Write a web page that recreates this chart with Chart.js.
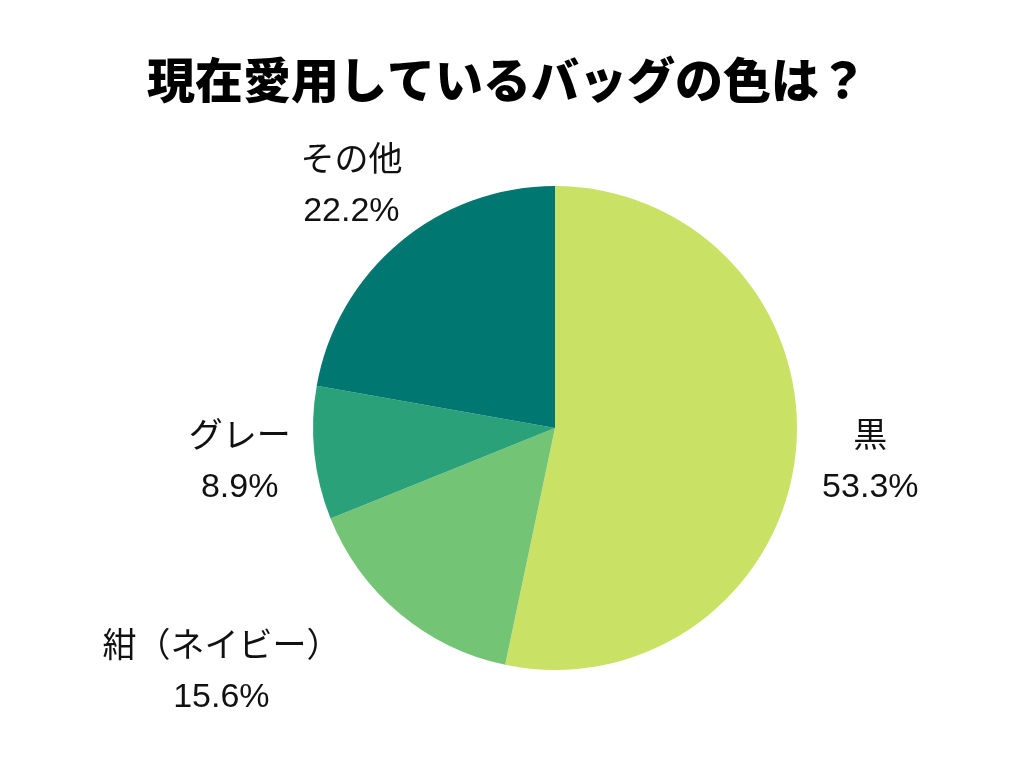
<!DOCTYPE html>
<html>
<head>
<meta charset="utf-8">
<script src="https://cdn.jsdelivr.net/npm/chart.js@4.4.1/dist/chart.umd.min.js"></script>
<style>
  html, body { margin: 0; padding: 0; background: #ffffff; }
  #wrap { width: 1024px; height: 768px; }
</style>
</head>
<body>
<div id="wrap"><canvas id="bagChart" width="1024" height="768"></canvas></div>
<script>
const TITLE = "現在愛用しているバッグの色は？";
const labels = ["黒", "紺（ネイビー）", "グレー", "その他"];
const shares = [53.3, 15.6, 8.9, 22.2];
const colors = ["#C9E265", "#74C476", "#2BA179", "#007770"];
// extra horizontal nudge for labels that would crowd the pie
const labelShiftX = [0, -130, 0, 0];

const textFont = '"Liberation Sans", "Noto Sans CJK JP", sans-serif';

const outsideLabels = {
    id: 'outsideLabels',
    afterDatasetsDraw(chart) {
        const ctx = chart.ctx;
        const arcs = chart.getDatasetMeta(0).data;
        ctx.save();
        ctx.fillStyle = '#111111';
        ctx.textAlign = 'center';
        ctx.textBaseline = 'middle';
        ctx.font = '34px ' + textFont;
        arcs.forEach((arc, i) => {
            const p = arc.getProps(['x', 'y', 'startAngle', 'endAngle', 'outerRadius'], true);
            const mid = (p.startAngle + p.endAngle) / 2;
            const d = p.outerRadius * 1.31;
            const x = p.x + Math.cos(mid) * d + labelShiftX[i];
            const y = p.y + Math.sin(mid) * d + 2;
            ctx.fillText(labels[i], x, y - 25);
            ctx.fillText(shares[i].toFixed(1) + '%', x, y + 25);
        });
        ctx.restore();
    }
};

const titlePlugin = {
    id: 'titleText',
    afterDraw(chart) {
        const ctx = chart.ctx;
        ctx.save();
        ctx.fillStyle = '#000000';
        ctx.textAlign = 'center';
        ctx.textBaseline = 'middle';
        ctx.font = '900 48px "Noto Sans CJK JP", sans-serif';
        ctx.fillText(TITLE, 507, 80);
        ctx.restore();
    }
};

new Chart(document.getElementById('bagChart').getContext('2d'), {
    type: 'pie',
    data: {
        labels: labels,
        datasets: [{
            data: shares,
            backgroundColor: colors,
            borderWidth: 0
        }]
    },
    options: {
        responsive: false,
        animation: false,
        radius: 242,
        layout: { padding: { left: 86, right: 0, top: 88, bottom: 0 } },
        plugins: {
            legend: { display: false },
            tooltip: { enabled: false },
            title: { display: false }
        }
    },
    plugins: [outsideLabels, titlePlugin]
});
</script>
</body>
</html>
